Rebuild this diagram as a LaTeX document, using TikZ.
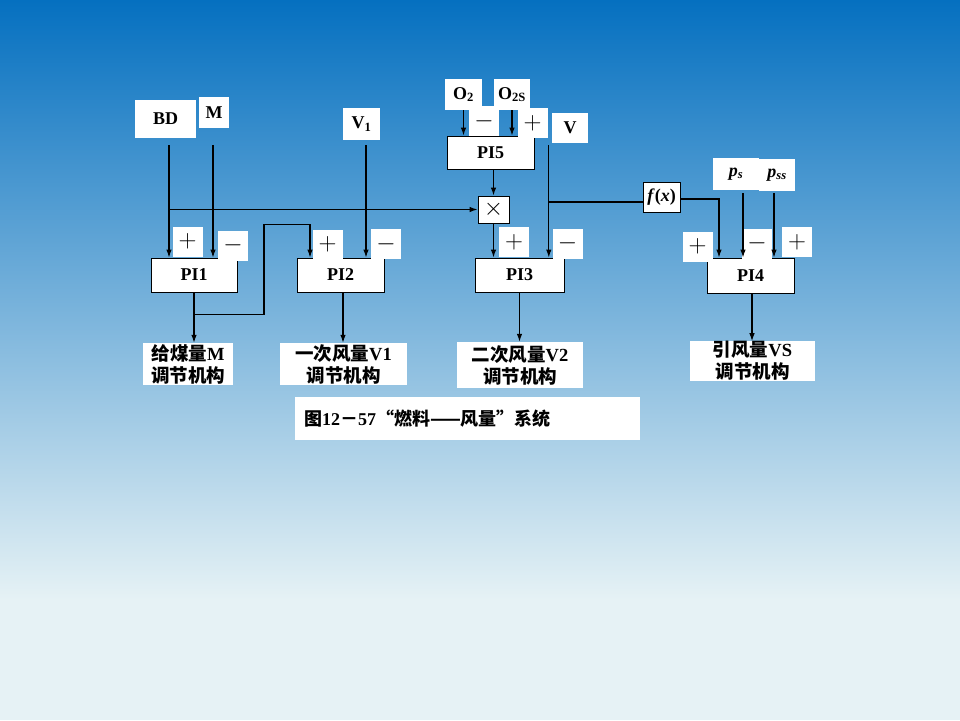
\documentclass[tikz,border=0pt]{standalone}
\usepackage{fontspec}
\setmainfont{Liberation Serif}
\newfontfamily\cjk{Noto Sans CJK SC}
\usetikzlibrary{arrows.meta, positioning, calc}
\definecolor{bgtop}{HTML}{0570C0}
\definecolor{bgmid}{HTML}{74B3DC}
\definecolor{bgbot}{HTML}{E6F2F5}

\begin{document}
\begin{tikzpicture}[
    x=1pt, y=-1pt,
    font=\fontsize{18}{21}\selectfont\bfseries,
    blk/.style={draw, fill=white, line width=0.9pt, inner sep=0pt},
    tag/.style={fill=white, inner sep=0pt},
    sgn/.style={tag, minimum width=30pt, minimum height=30pt,
                font=\fontsize{28}{28}\selectfont},
    outbox/.style={tag, align=center, minimum height=42pt,
                   font=\fontsize{18.5}{22}\selectfont\bfseries},
    arr/.style={-{Latex[length=8pt,width=5.5pt]}, line width=1.1pt},
    wire/.style={line width=1.1pt}]

  % background
  \useasboundingbox (0,0) rectangle (960,720);
  \shade[top color=bgtop, middle color=bgmid, bottom color=bgbot]
        (0,0) rectangle (960,600);
  \fill[bgbot] (0,600) rectangle (960,720);

  % ---- inputs ----
  \node[tag, minimum width=61pt, minimum height=38pt] (BD) at (165.5,119) {BD};
  \node[tag, minimum width=30pt, minimum height=31pt] (M)  at (214,112.5) {M};
  \node[tag, minimum width=37pt, minimum height=32pt] (V1) at (361.5,124) {V\textsubscript{1}};
  \node[tag, minimum width=37pt, minimum height=31pt] (O2) at (463.5,94.5) {O\textsubscript{2}};
  \node[tag, minimum width=36pt, minimum height=31pt] (O2S) at (512,94.5) {O\textsubscript{2S}};
  \node[tag, minimum width=36pt, minimum height=30pt] (V)  at (570,128) {V};
  \node[tag, minimum width=46pt, minimum height=32pt] (ps)  at (736,174) {\textit{p}\textsubscript{\textit{s}}};
  \node[tag, minimum width=36pt, minimum height=32pt] (pss) at (777,175) {\textit{p}\textsubscript{\textit{ss}}};

  % ---- controllers ----
  \node[blk, minimum width=87pt, minimum height=33pt] (PI5) at (490.5,152.5) {PI5};
  \node[blk, minimum width=31pt, minimum height=27pt] (times) at (493.5,209.5) {\fontsize{26}{26}\selectfont$\times$};
  \node[blk, minimum width=37pt, minimum height=30pt] (fx) at (661.5,197) {\textit{f}(\textit{x})};
  \node[blk, minimum width=86pt, minimum height=34pt] (PI1) at (194,275) {PI1};
  \node[blk, minimum width=87pt, minimum height=34pt] (PI2) at (340.5,275) {PI2};
  \node[blk, minimum width=89pt, minimum height=34pt] (PI3) at (519.5,275) {PI3};
  \node[blk, minimum width=87pt, minimum height=35pt] (PI4) at (750.5,275.5) {PI4};

  % ---- signs ----
  \node[sgn] (p1) at (187.5,241.5) {$+$};
  \node[sgn] (m1) at (233,245.5)   {$-$};
  \node[sgn] (p2) at (327.5,244.5) {$+$};
  \node[sgn] (m2) at (386,244)     {$-$};
  \node[sgn] (p3) at (514,242)     {$+$};
  \node[sgn] (m3) at (567.5,243.5) {$-$};
  \node[sgn] (m5) at (484,121)     {$-$};
  \node[sgn] (p5) at (532.5,123)   {$+$};
  \node[sgn] (p4) at (697.5,246.5) {$+$};
  \node[sgn] (m4) at (757,243.5)   {$-$};
  \node[sgn] (q4) at (797,242)     {$+$};

  % ---- actuators ----
  \node[outbox, minimum width=90pt]  (out1) at (188,364)   {{\cjk 给煤量}M\\{\cjk 调节机构}};
  \node[outbox, minimum width=127pt] (out2) at (343.5,364) {{\cjk 一次风量}V1\\{\cjk 调节机构}};
  \node[outbox, minimum width=126pt, minimum height=46pt] (out3) at (520,365) {{\cjk 二次风量}V2\\{\cjk 调节机构}};
  \node[outbox, minimum width=125pt, minimum height=38pt] (out4) at (752.5,361) {{\cjk 引风量}VS\\{\cjk 调节机构}};

  \node[tag, minimum width=345pt, minimum height=43pt, text width=327pt,
        align=left, font=\fontsize{18}{21}\selectfont\bfseries] (cap) at (467.5,418.5)
        {{\cjk 图}12{\cjk －}57{\cjk “燃料——风量”系统}};

  % ---- connectors ----
  \coordinate (bdl)  at ([xshift=3.5pt,yshift=-7pt]BD.south);
  \coordinate (ml)   at ([xshift=-1pt,yshift=-17pt]M.south);
  \coordinate (v1l)  at ([xshift=4.5pt,yshift=-5pt]V1.south);
  \coordinate (vl)   at ([xshift=-3pt,yshift=-2pt]V.south west);
  \coordinate (fxin) at ([yshift=-5pt]fx.west);
  \coordinate (psl)  at ([xshift=7pt,yshift=-3pt]ps.south);
  \coordinate (pssl) at ([xshift=-3pt,yshift=-2pt]pss.south);
  \coordinate (j1)   at ([yshift=-22pt]PI1.south);

  \draw[arr] (bdl) -- (bdl |- PI1.north);
  \draw[arr] (ml) -- (ml |- PI1.north);
  \draw[arr] (bdl |- times.west) -- (times.west);
  \draw[arr] (PI1.south) -- (PI1.south |- out1.north);
  \draw[arr] (j1) -- ++(70,0) |- ([xshift=-30.5pt,yshift=33pt]PI2.north)
             -- ([xshift=-30.5pt]PI2.north);
  \draw[arr] (v1l) -- (v1l |- PI2.north);
  \draw[arr] ([xshift=2.5pt]PI2.south) -- ([xshift=2.5pt]PI2.south |- out2.north);

  \draw[arr] (O2.south) -- (O2.south |- PI5.north);
  \draw[arr] (O2S.south) -- (O2S.south |- PI5.north);
  \draw[arr] (PI5.south -| times.north) -- (times.north);
  \draw[arr] (times.south) -- (times.south |- PI3.north);
  \draw[arr] (vl) -- (vl |- PI3.north);
  \draw[wire] (vl |- fxin) -- (fxin);
  \draw[arr] (PI3.south) -- (PI3.south |- out3.north);

  \draw[arr] ([yshift=-2pt]fx.east) -| ([xshift=-31.5pt]PI4.north);
  \draw[arr] (psl) -- (psl |- PI4.north);
  \draw[arr] (pssl) -- (pssl |- PI4.north);
  \draw[arr] ([xshift=1.5pt]PI4.south) -- ([xshift=1.5pt]PI4.south |- out4.north);
\end{tikzpicture}
\end{document}
